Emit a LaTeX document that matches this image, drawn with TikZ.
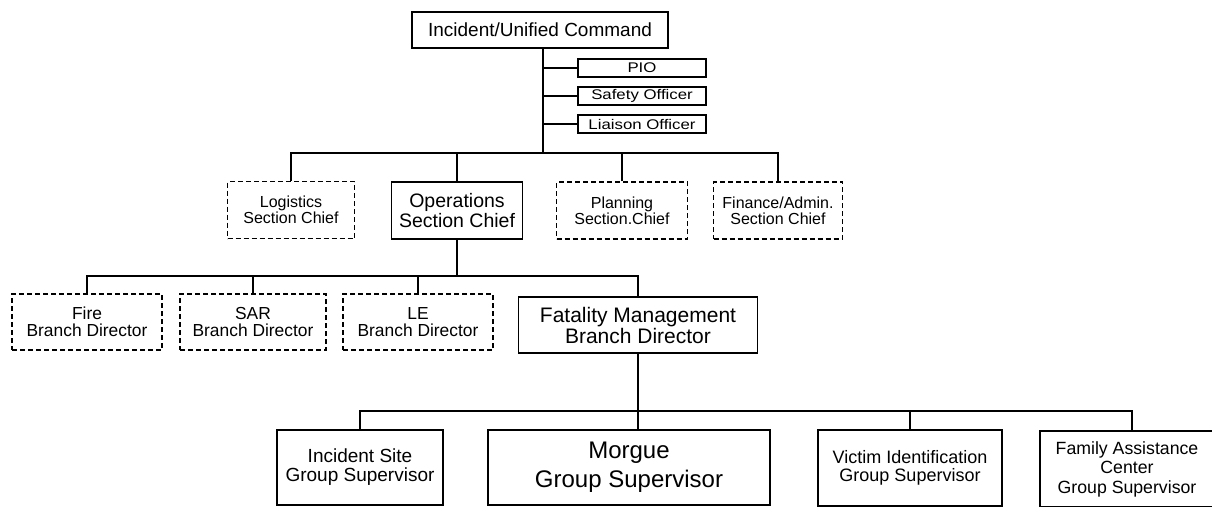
\documentclass[tikz,border=0pt]{standalone}
\usepackage{fontspec}
\setmainfont{Liberation Sans}
\newfontfamily\widesans[FakeStretch=1.2]{Liberation Sans}
\begin{document}
\begin{tikzpicture}[x=1pt,y=-1pt,
  box/.style={draw, line width=1.3pt, inner sep=0pt, align=center},
  dbox/.style={box, line width=1.3pt, dash pattern=on 5pt off 3pt},
  sbox/.style={box, line width=1.6pt},
  conn/.style={line width=1.3pt},
  fz/.style={font=\fontsize{#1}{#1}\selectfont}]
\useasboundingbox (0,0) rectangle (1212,506);
\clip (0,0) rectangle (1212,506);
% top
\node[box, minimum width=256pt, minimum height=36pt, fz=19] (cmd) at (540,30) {Incident/Unified Command};
\node[box, minimum width=128pt, minimum height=18pt, font=\widesans\fontsize{14}{14}\selectfont] (pio) at (642,68) {PIO};
\node[box, minimum width=128pt, minimum height=18pt, font=\widesans\fontsize{14}{14}\selectfont] (saf) at (642,96) {Safety Officer};
\node[box, minimum width=128pt, minimum height=18pt, font=\widesans\fontsize{14}{14}\selectfont] (lia) at (642,124) {Liaison Officer};
% sections
\node[dbox, minimum width=127pt, minimum height=57pt, fz=16] (log) at (291,210) {Logistics\\Section Chief};
\node[sbox, minimum width=131pt, minimum height=57pt, fz=19.5] (ops) at (457,210.5) {Operations\\Section Chief};
\node[dbox, minimum width=131pt, minimum height=57pt, fz=16] (plan) at (622,210.5) {Planning\\Section.Chief};
\node[dbox, minimum width=129pt, minimum height=57pt, fz=16] (fin) at (778,210.5) {Finance/Admin.\\Section Chief};
% branches
\node[dbox, minimum width=150pt, minimum height=56pt, fz=17.4] (fire) at (87,322) {Fire\\Branch Director};
\node[dbox, minimum width=146pt, minimum height=56pt, fz=17.4] (sar) at (253,322) {SAR\\Branch Director};
\node[dbox, minimum width=150pt, minimum height=56pt, fz=17.4] (le) at (418,322) {LE\\Branch Director};
\node[sbox, minimum width=239pt, minimum height=56pt, fz=21] (fm) at (638,325) {Fatality Management\\Branch Director};
% groups
\node[sbox, minimum width=166pt, minimum height=75pt, fz=19] (is) at (360,467.5) {Incident Site\\Group Supervisor};
\node[sbox, minimum width=282pt, minimum height=75pt, font=\fontsize{24}{29}\selectfont] (mor) at (629,467.5) {Morgue\\Group Supervisor};
\node[sbox, minimum width=184pt, minimum height=76pt, fz=18] (vic) at (910,468) {Victim Identification\\Group Supervisor};
\node[sbox, minimum width=174pt, minimum height=76pt, font=\fontsize{17.7}{19.5}\selectfont] (fam) at (1127,469) {Family Assistance\\Center\\Group Supervisor};
% connectors: command level
\coordinate (t0) at (543,153);
\draw[conn] (cmd.south -| t0) -- (t0);
\draw[conn] (pio.west) -- (pio.west -| t0);
\draw[conn] (saf.west) -- (saf.west -| t0);
\draw[conn] (lia.west) -- (lia.west -| t0);
\draw[conn] (log.north) |- (fin.north |- t0) -- (fin.north);
\draw[conn] (ops.north) -- (ops.north |- t0);
\draw[conn] (plan.north) -- (plan.north |- t0);
% branch level
\coordinate (t1) at (457,276);
\draw[conn] (ops.south) -- (ops.south |- t1);
\draw[conn] (fire.north) |- (fm.north |- t1) -- (fm.north);
\draw[conn] (sar.north) -- (sar.north |- t1);
\draw[conn] (le.north) -- (le.north |- t1);
% group level
\coordinate (t2) at (638,411);
\coordinate (fc) at (1132,411);
\draw[conn] (fm.south) -- (t2);
\draw[conn] (is.north) |- (fc) -- (fc |- fam.north);
\draw[conn] (mor.north -| t2) -- (t2);
\draw[conn] (vic.north) -- (vic.north |- t2);
\end{tikzpicture}
\end{document}
